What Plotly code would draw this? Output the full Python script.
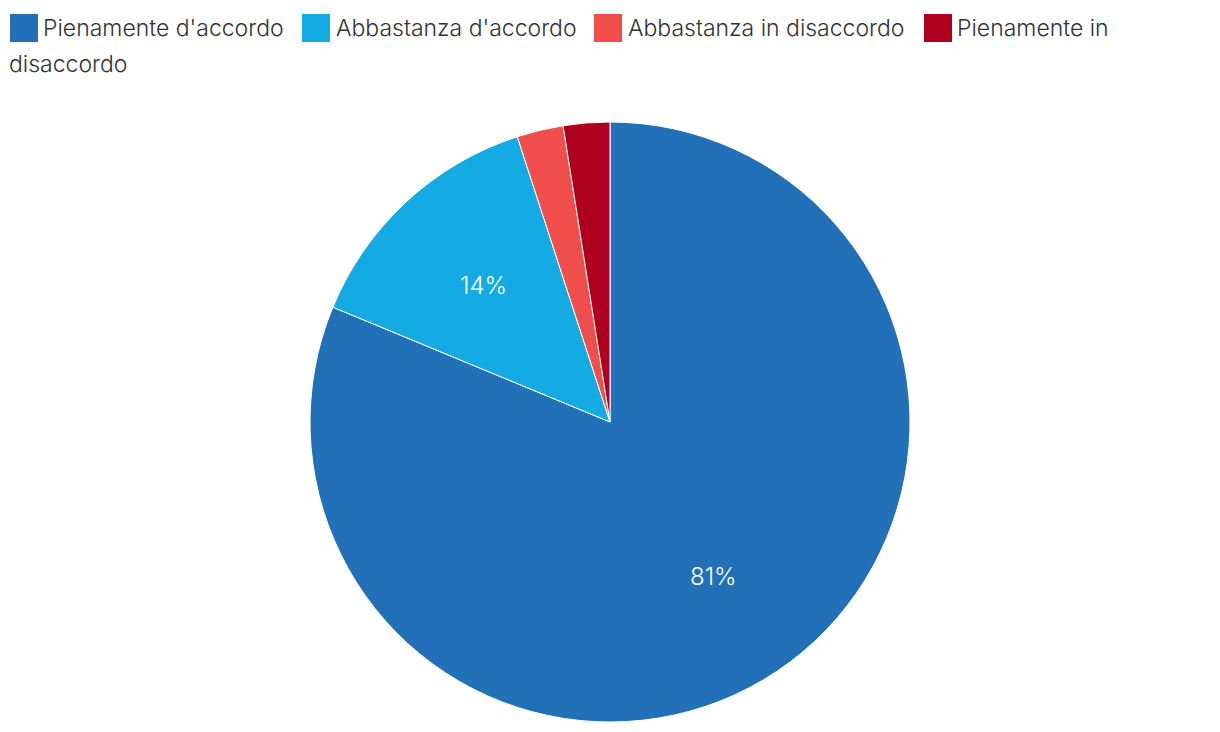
import math
import plotly.graph_objects as go

categories = ["Pienamente d'accordo", "Abbastanza d'accordo", "Abbastanza in disaccordo", "Pienamente in disaccordo"]
values = [65, 11, 2, 2]
colors = ["#2170B8", "#14AAE3", "#EF4E4A", "#B0001F"]
show_label = [True, True, False, False]

OFF = 8  # page body margin
W, H = 1204, 716
L, R, T, B = 0, 0, 114, 2
PW, PH = W - L - R, H - T - B
RADIUS = min(PW, PH) / 2
CX, CY = OFF + L + PW / 2, OFF + T + PH / 2  # screen px


def px_x(x):
    return (x - OFF - L) / PW


def px_y(y):
    return (OFF + T + PH - y) / PH


FONT = "Inter"
TEXT_FONT = dict(size=23, color="#333", family=FONT, weight=300)

fig = go.Figure(go.Pie(
    labels=categories,
    values=values,
    marker=dict(colors=colors, line=dict(color="white", width=1)),
    sort=False,
    direction="clockwise",
    rotation=0,
    textinfo="none",
    hoverinfo="label+percent",
    showlegend=False,
))

shapes = []
annotations = []

# percentage labels, positioned from the data (clockwise from 12 o'clock)
total = sum(values)
cum = 0
for v, s in zip(values, show_label):
    mid = (cum + v / 2) / total * 2 * math.pi
    cum += v
    if not s:
        continue
    r = 0.62 * RADIUS
    x = CX + r * math.sin(mid)
    y = CY - r * math.cos(mid)
    annotations.append(dict(text=f"{round(v / total * 100)}%", x=px_x(x), y=px_y(y),
                            xref="paper", yref="paper", xanchor="center", yanchor="middle",
                            showarrow=False, font=dict(size=24, color="white", family=FONT, weight=300)))

# custom flowing legend (wraps like inline text)
sw_x = [10, 302, 594, 924]
txt_x = [41, 334, 626, 955]
row1_y = 28
for i, name in enumerate(categories):
    shapes.append(dict(type="rect", xref="paper", yref="paper",
                       x0=px_x(sw_x[i]), x1=px_x(sw_x[i] + 28),
                       y0=px_y(row1_y + 14), y1=px_y(row1_y - 14),
                       fillcolor=colors[i], line=dict(width=0)))
    if i < 3:
        annotations.append(dict(text=name, x=px_x(txt_x[i]), y=px_y(row1_y),
                                xref="paper", yref="paper", xanchor="left", yanchor="middle",
                                showarrow=False, font=TEXT_FONT))
    else:
        first, second = name.rsplit(" ", 1)
        annotations.append(dict(text=first, x=px_x(txt_x[i]), y=px_y(row1_y),
                                xref="paper", yref="paper", xanchor="left", yanchor="middle",
                                showarrow=False, font=TEXT_FONT))
        annotations.append(dict(text=second, x=px_x(7), y=px_y(64),
                                xref="paper", yref="paper", xanchor="left", yanchor="middle",
                                showarrow=False, font=TEXT_FONT))

fig.update_layout(
    width=W, height=H,
    margin=dict(l=L, r=R, t=T, b=B),
    paper_bgcolor="white",
    plot_bgcolor="white",
    shapes=shapes,
    annotations=annotations,
)

fig.write_html("out.html")
